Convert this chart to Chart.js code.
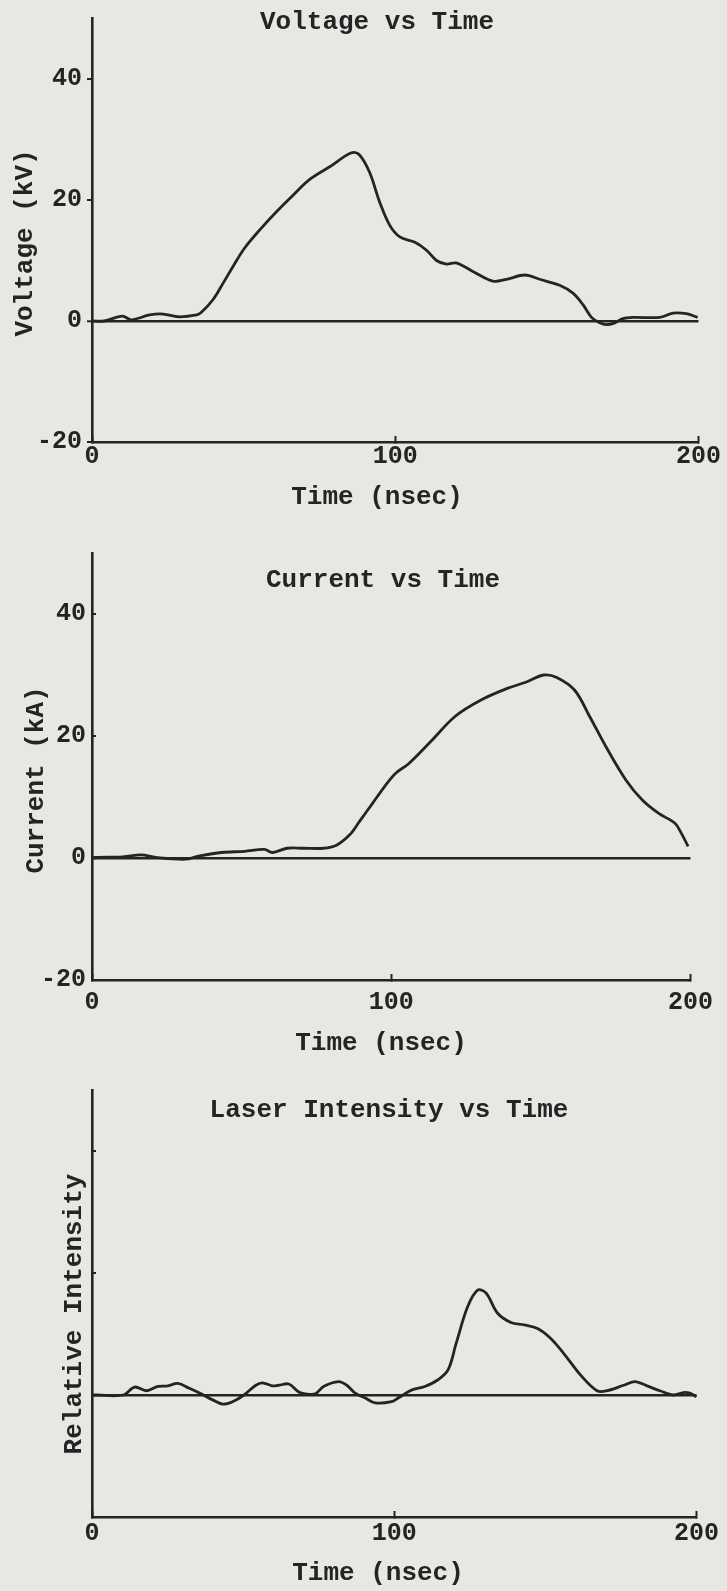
<!DOCTYPE html>
<html>
<head>
<meta charset="utf-8">
<script src="https://cdn.jsdelivr.net/npm/chart.js@4.4.1/dist/chart.umd.min.js"></script>
<style>
  html, body { margin: 0; padding: 0; background: #e7e7e3; }
  body { width: 727px; height: 1591px; position: relative; overflow: hidden; }
  .box { position: absolute; left: 0; width: 727px; }
</style>
</head>
<body>
<div class="box" style="top:0px;height:530px"><canvas id="c1"></canvas></div>
<div class="box" style="top:530px;height:535px"><canvas id="c2"></canvas></div>
<div class="box" style="top:1065px;height:526px"><canvas id="c3"></canvas></div>
<script>
// ---------- data ----------
const xTicks = [0, 100, 200];
const yTicks = [-20, 0, 20, 40];

const voltageTime = [0, 4, 10, 13, 19, 23.5, 28.5, 34.5, 36, 40, 43.3, 46.6, 50.4, 55.4, 60.9, 66.3, 71.8, 78.4, 85.6, 88.3, 91.6, 94.9, 98.2, 101.5, 106.5, 110.3, 113.6, 116.9, 120.1, 125.6, 132.2, 136.7, 142.7, 147.6, 154.2, 158.6, 161.9, 164.7, 167.4, 169.7, 172.4, 175.1, 178.4, 187.2, 191.6, 196, 199.7];
const voltageKV   = [0, 0, 0.8, 0.2, 1.0, 1.15, 0.7, 1.0, 1.4, 3.6, 6.3, 9.1, 12.1, 15.1, 18.1, 20.8, 23.4, 25.5, 27.8, 27.4, 24.5, 19.6, 15.8, 13.9, 13.0, 11.7, 10.0, 9.4, 9.6, 8.2, 6.6, 6.9, 7.6, 6.9, 5.9, 4.6, 2.7, 0.6, -0.3, -0.6, -0.3, 0.4, 0.6, 0.6, 1.3, 1.2, 0.6];

const currentTime = [0, 1, 10.3, 16.4, 21.3, 31.2, 35.6, 43.3, 51, 57.6, 60.3, 65.2, 70.7, 77.3, 81.7, 86.1, 89.4, 93.8, 98.2, 101.5, 105.9, 113.6, 121.3, 130, 138.8, 145.4, 150.9, 155.3, 161.3, 166.3, 171.8, 178.4, 183.9, 189.4, 194.8, 197, 199.2];
const currentKA   = [0, 0.1, 0.2, 0.5, 0.1, -0.2, 0.3, 0.9, 1.1, 1.4, 0.9, 1.6, 1.6, 1.6, 2.1, 3.8, 6, 9, 12, 13.9, 15.5, 19.3, 23.2, 25.9, 27.8, 28.9, 30, 29.6, 27.5, 23.2, 18.2, 12.8, 9.5, 7.3, 5.7, 4, 1.9];

const laserTime = [0, 1.5, 10.3, 14.1, 18, 21.8, 25.1, 28.4, 32.2, 36.1, 39.9, 43.2, 46.5, 50.3, 54.2, 56.4, 59.6, 61.8, 65.1, 68.4, 70.6, 73.9, 76.6, 81.6, 84.3, 87.1, 90.4, 93.7, 99.1, 101.3, 105.7, 110.1, 114.5, 117.8, 120.5, 124.3, 127.6, 130.4, 134.2, 138.6, 143, 147.4, 151.7, 156.1, 161.6, 167.1, 170.4, 175.9, 179.7, 183.6, 187.9, 192.3, 195.6, 197.8, 200];
const laserRel  = [0, 0, 0, 1.3, 0.7, 1.4, 1.5, 1.9, 1.1, 0.2, -0.8, -1.5, -1.1, 0, 1.6, 2.0, 1.5, 1.6, 1.8, 0.5, 0.2, 0.2, 1.4, 2.2, 1.6, 0.3, -0.5, -1.3, -1.1, -0.5, 0.8, 1.4, 2.5, 4.1, 8.5, 14.5, 17.2, 16.7, 13.4, 11.9, 11.5, 10.9, 9.3, 6.8, 3.3, 0.7, 0.7, 1.6, 2.2, 1.5, 0.7, 0, 0.4, 0.3, -0.3];

const chartTitles = ['Voltage vs Time', 'Current vs Time', 'Laser Intensity vs Time'];
const yTitles = ['Voltage (kV)', 'Current (kA)', 'Relative Intensity'];
const xTitle = 'Time (nsec)';

// ---------- styling ----------
const INK = '#242424';
const FAMILY = '"Liberation Mono", "Courier New", monospace';
const TICK_FONT = { family: FAMILY, size: 25, weight: 'bold', lineHeight: 1.2 };
const TITLE_FONT = 'bold 26px ' + FAMILY;

// Draws the figure's titles (chart title inside the plot, axis titles) where the typewritten originals sit.
const figureText = {
  id: 'figureText',
  afterDraw(chart, args, o) {
    const ctx = chart.ctx;
    ctx.save();
    ctx.font = TITLE_FONT;
    ctx.fillStyle = INK;
    ctx.textAlign = 'center';
    ctx.textBaseline = 'middle';
    ctx.fillText(o.title, o.titleX, o.titleY);
    ctx.fillText(o.xTitle, o.xTitleX, o.xTitleY);
    ctx.translate(o.yTitleX, o.yTitleY);
    ctx.rotate(-Math.PI / 2);
    ctx.fillText(o.yTitle, 0, 0);
    ctx.restore();
  }
};

function makeChart(id, times, values, idx, L) {
  const pts = times.map((t, i) => ({ x: t, y: values[i] }));
  return new Chart(document.getElementById(id), {
    type: 'line',
    data: { datasets: [{
      label: yTitles[idx],
      data: pts, borderColor: INK, borderWidth: 2.8, pointRadius: 0,
      tension: 0.35, fill: false, clip: 4
    }]},
    plugins: [figureText],
    options: {
      responsive: true, maintainAspectRatio: false, animation: false, events: [],
      layout: { padding: { left: 0, right: 28, top: L.top, bottom: 0 } },
      plugins: {
        legend: { display: false }, tooltip: { enabled: false },
        figureText: {
          title: chartTitles[idx], titleX: L.titleX, titleY: L.titleY,
          xTitle: xTitle, xTitleX: L.xTitleX, xTitleY: L.xTitleY,
          yTitle: yTitles[idx], yTitleX: L.yTitleX, yTitleY: L.yTitleY
        }
      },
      scales: {
        x: {
          type: 'linear', min: 0, max: 200,
          afterBuildTicks: s => { s.ticks = xTicks.map(v => ({ value: v })); },
          afterFit: s => { s.height = L.xHeight; },
          border: { display: true, color: INK, width: 2.6 },
          grid: { drawOnChartArea: false, drawTicks: true, tickLength: -6, tickColor: INK, tickWidth: 2 },
          ticks: { color: INK, font: TICK_FONT, padding: L.xPad, maxRotation: 0, autoSkip: false },
          title: { display: false, text: xTitle }
        },
        y: {
          type: 'linear', min: -20, max: 50,
          afterBuildTicks: s => { s.ticks = yTicks.map(v => ({ value: v })); },
          afterFit: s => { s.width = 92; },
          border: { display: true, color: INK, width: 2.6 },
          grid: {
            drawOnChartArea: true, drawTicks: true, tickLength: L.yTick, tickColor: INK, tickWidth: 2,
            color: c => (c.tick && c.tick.value === 0) ? INK : 'rgba(0,0,0,0)',
            lineWidth: c => (c.tick && c.tick.value === 0) ? 2.6 : 0
          },
          ticks: {
            color: INK, font: { family: FAMILY, size: 25, weight: 'bold', lineHeight: 1 }, padding: L.yPad,
            callback: v => L.yLabels ? String(v) : ''
          },
          title: { display: false, text: yTitles[idx] }
        }
      }
    }
  });
}

makeChart('c1', voltageTime, voltageKV, 0,
  { top: 18.5, xHeight: 88, xPad: 6, yTick: 5, yPad: 5, yLabels: true,
    titleX: 377, titleY: 22, xTitleX: 377, xTitleY: 497, yTitleX: 25, yTitleY: 243 });
makeChart('c2', currentTime, currentKA, 1,
  { top: 23, xHeight: 85, xPad: 14, yTick: -4, yPad: 10, yLabels: true,
    titleX: 383, titleY: 50, xTitleX: 381, xTitleY: 513, yTitleX: 36, yTitleY: 250 });
makeChart('c3', laserTime, laserRel, 2,
  { top: 25, xHeight: 74, xPad: 8, yTick: -4, yPad: 10, yLabels: false,
    titleX: 389, titleY: 45, xTitleX: 378, xTitleY: 508, yTitleX: 74, yTitleY: 249 });
</script>
</body>
</html>
